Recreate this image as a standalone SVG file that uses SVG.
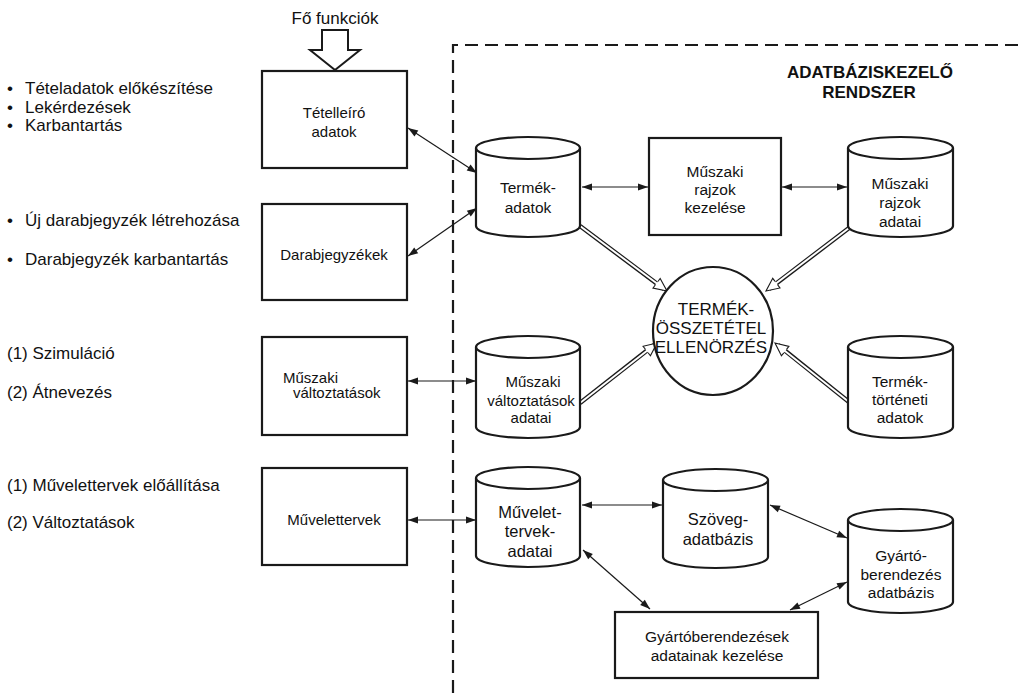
<svg xmlns="http://www.w3.org/2000/svg" width="1023" height="693" viewBox="0 0 1023 693">
<style>
text{font-family:"Liberation Sans",Arial,sans-serif;fill:#111}
.l{font-size:17px}
.b{font-size:15px;text-anchor:middle}
.bs{font-size:15px;text-anchor:start}
.cy{font-size:15.5px;text-anchor:middle}
.bg{font-size:16.5px;text-anchor:middle}
.h{font-size:17px;font-weight:bold;text-anchor:middle}
.c{font-size:17px;text-anchor:middle}
.box{fill:#fff;stroke:#1a1a1a;stroke-width:2.2}
.cyl{fill:#fff;stroke:#1a1a1a;stroke-width:2.2}
.ar{stroke:#1a1a1a;stroke-width:1.2;fill:none;marker-start:url(#ah);marker-end:url(#ah)}
.ho{stroke:#1a1a1a;stroke-width:4.5;fill:none}
.hi{stroke:#fff;stroke-width:2;fill:none;marker-end:url(#hh)}
</style>
<defs>
<marker id="ah" markerUnits="userSpaceOnUse" markerWidth="11" markerHeight="8" refX="10" refY="3.5" orient="auto-start-reverse" overflow="visible">
<path d="M0,0 L10,3.5 L0,7 z" fill="#1a1a1a"/>
</marker>
<marker id="hh" markerUnits="userSpaceOnUse" markerWidth="14" markerHeight="12" refX="13" refY="6" orient="auto" overflow="visible">
<path d="M0,0 L13,6 L0,12 z" fill="#fff"/>
<path d="M0,3.8 L0,0 L13,6 L0,12 L0,8.2" fill="none" stroke="#1a1a1a" stroke-width="1.1"/>
</marker>
</defs>
<rect width="1023" height="693" fill="#fff"/>

<g id="system-boundary">
<path d="M453,693 V45 H1030" fill="none" stroke="#1a1a1a" stroke-width="2.2" stroke-dasharray="13,7"/>
<text class="h" x="870" y="78">ADATBÁZISKEZELŐ</text>
<text class="h" x="869" y="98">RENDSZER</text>
</g>

<g id="main-functions">
<text class="l" x="335" y="24" text-anchor="middle">Fő funkciók</text>
<path d="M322,30 H348 V50 H360 L335,70 L310,50 H322 Z" fill="#fff" stroke="#1a1a1a" stroke-width="2"/>
</g>

<g id="left-notes">
<text class="l" x="7" y="94"><tspan>•</tspan><tspan x="25">Tételadatok előkészítése</tspan></text>
<text class="l" x="7" y="112.5"><tspan>•</tspan><tspan x="25">Lekérdezések</tspan></text>
<text class="l" x="7" y="131"><tspan>•</tspan><tspan x="25">Karbantartás</tspan></text>
<text class="l" x="7" y="226"><tspan>•</tspan><tspan x="25">Új darabjegyzék létrehozása</tspan></text>
<text class="l" x="7" y="265"><tspan>•</tspan><tspan x="25">Darabjegyzék karbantartás</tspan></text>
<text class="l" x="7" y="359">(1) Szimuláció</text>
<text class="l" x="7" y="398">(2) Átnevezés</text>
<text class="l" x="7" y="491">(1) Művelettervek előállítása</text>
<text class="l" x="7" y="528">(2) Változtatások</text>
</g>

<g id="connectors">
<line class="ar" x1="408" y1="128" x2="477" y2="173"/>
<line class="ar" x1="408" y1="256" x2="477" y2="208"/>
<line class="ar" x1="408" y1="381" x2="476" y2="381"/>
<line class="ar" x1="408" y1="520" x2="476" y2="520"/>
<line class="ar" x1="582" y1="187" x2="648" y2="187"/>
<line class="ar" x1="782" y1="187" x2="847" y2="187"/>
<line class="ar" x1="582" y1="505" x2="662" y2="505"/>
<line class="ar" x1="770" y1="505" x2="847" y2="538"/>
<line class="ar" x1="583" y1="550" x2="650" y2="609"/>
<line class="ar" x1="847" y1="582" x2="790" y2="610"/>
<g id="hollow-arrows">
<line class="ho" x1="580" y1="226" x2="664" y2="289"/>
<line class="hi" x1="580" y1="226" x2="667" y2="291"/>
<line class="ho" x1="849" y1="228" x2="769" y2="289"/>
<line class="hi" x1="849" y1="228" x2="766" y2="291"/>
<line class="ho" x1="580" y1="403" x2="654" y2="345"/>
<line class="hi" x1="580" y1="403" x2="657" y2="343"/>
<line class="ho" x1="849" y1="402" x2="778" y2="345"/>
<line class="hi" x1="849" y1="402" x2="775" y2="343"/>
</g>
</g>

<g id="n-tetelleiro">
<rect class="box" x="262" y="71" width="145" height="97"/>
<text class="b" x="334" y="118">Tételleíró</text>
<text class="b" x="334" y="137">adatok</text>
</g>
<g id="n-darabjegyzekek">
<rect class="box" x="262" y="204" width="145" height="96"/>
<text class="b" x="334" y="260">Darabjegyzékek</text>
</g>
<g id="n-muszaki-valtoztatasok">
<rect class="box" x="262" y="337" width="145" height="98"/>
<text class="bs" x="283" y="383">Műszaki</text>
<text class="bs" x="293" y="398">változtatások</text>
</g>
<g id="n-muvelettervek">
<rect class="box" x="262" y="468" width="145" height="97"/>
<text class="b" x="334" y="525">Művelettervek</text>
</g>

<g id="n-termek-adatok">
<path class="cyl" d="M476,148 A52,11 0 0 1 580,148 V226 A52,11 0 0 1 476,226 Z"/>
<path class="cyl" d="M476,148 A52,11 0 0 0 580,148" fill="none"/>
<text class="cy" x="528" y="193">Termék-</text>
<text class="cy" x="528" y="213">adatok</text>
</g>
<g id="n-rajzok-kezelese">
<rect class="box" x="649" y="138" width="132" height="97"/>
<text class="cy" x="715" y="177">Műszaki</text>
<text class="cy" x="715" y="195">rajzok</text>
<text class="cy" x="715" y="213">kezelése</text>
</g>
<g id="n-rajzok-adatai">
<path class="cyl" d="M848,148 A52.5,11 0 0 1 953,148 V226 A52.5,11 0 0 1 848,226 Z"/>
<path class="cyl" d="M848,148 A52.5,11 0 0 0 953,148" fill="none"/>
<text class="cy" x="900" y="189">Műszaki</text>
<text class="cy" x="900" y="208">rajzok</text>
<text class="cy" x="900" y="227">adatai</text>
</g>
<g id="n-osszetetel">
<ellipse class="box" cx="713" cy="331" rx="60" ry="64"/>
<text class="c" x="716" y="315">TERMÉK-</text>
<text class="c" x="711" y="334">ÖSSZETÉTEL</text>
<text class="c" x="711" y="353">ELLENÖRZÉS</text>
</g>
<g id="n-valtoztatasok-adatai">
<path class="cyl" d="M476,347 A52,11 0 0 1 580,347 V427 A52,11 0 0 1 476,427 Z"/>
<path class="cyl" d="M476,347 A52,11 0 0 0 580,347" fill="none"/>
<text class="b" x="533" y="387">Műszaki</text>
<text class="b" x="531" y="406">változtatások</text>
<text class="b" x="531" y="423">adatai</text>
</g>
<g id="n-termek-torteneti">
<path class="cyl" d="M848,347 A52.5,11 0 0 1 953,347 V427 A52.5,11 0 0 1 848,427 Z"/>
<path class="cyl" d="M848,347 A52.5,11 0 0 0 953,347" fill="none"/>
<text class="cy" x="900" y="387">Termék-</text>
<text class="cy" x="900" y="405">történeti</text>
<text class="cy" x="900" y="423">adatok</text>
</g>
<g id="n-muvelettervek-adatai">
<path class="cyl" d="M476,478 A52,11 0 0 1 580,478 V556 A52,11 0 0 1 476,556 Z"/>
<path class="cyl" d="M476,478 A52,11 0 0 0 580,478" fill="none"/>
<text class="bg" x="530" y="518">Művelet-</text>
<text class="bg" x="530" y="537">tervek-</text>
<text class="bg" x="530" y="557">adatai</text>
</g>
<g id="n-szoveg">
<path class="cyl" d="M663,480 A52.5,11 0 0 1 768,480 V557 A52.5,11 0 0 1 663,557 Z"/>
<path class="cyl" d="M663,480 A52.5,11 0 0 0 768,480" fill="none"/>
<text class="bg" x="718" y="525">Szöveg-</text>
<text class="bg" x="718" y="545">adatbázis</text>
</g>
<g id="n-gyarto-adatbazis">
<path class="cyl" d="M848,520 A52.5,11 0 0 1 953,520 V602 A52.5,11 0 0 1 848,602 Z"/>
<path class="cyl" d="M848,520 A52.5,11 0 0 0 953,520" fill="none"/>
<text class="cy" x="901" y="561">Gyártó-</text>
<text class="cy" x="901" y="580">berendezés</text>
<text class="cy" x="901" y="598">adatbázis</text>
</g>
<g id="n-gyarto-kezeles">
<rect class="box" x="615" y="612" width="203" height="66"/>
<text class="cy" x="717" y="642">Gyártóberendezések</text>
<text class="cy" x="717" y="661">adatainak kezelése</text>
</g>
</svg>
